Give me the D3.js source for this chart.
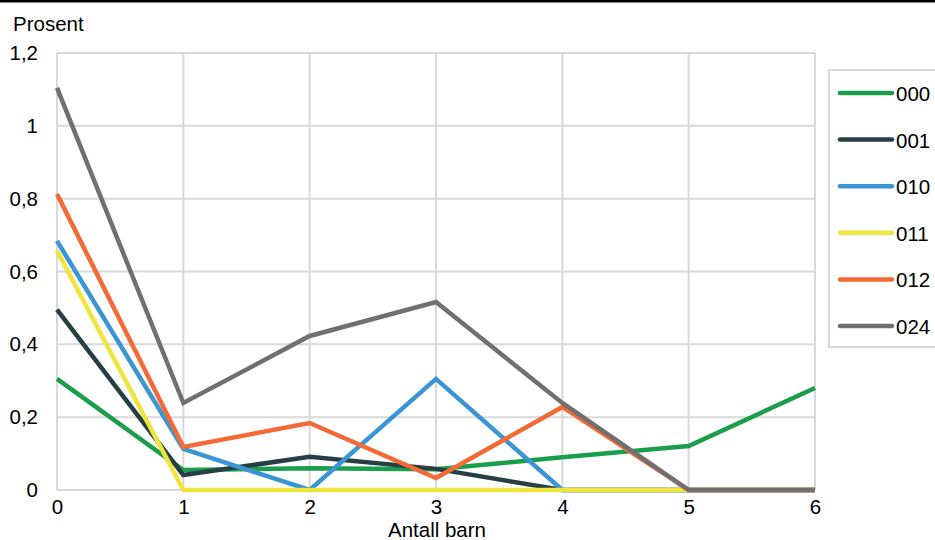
<!DOCTYPE html>
<html><head><meta charset="utf-8">
<script src="https://cdn.jsdelivr.net/npm/d3@7"></script>
<style>body{margin:0;background:#fff}svg{display:block;font-family:"Liberation Sans",Arial,sans-serif}</style>
</head><body><svg id="c" width="935" height="540"></svg>
<script>
const categories = [0,1,2,3,4,5,6];
const seriesNames = ["000","001","010","011","012","024"];
const s000 = [0.305,0.055,0.06,0.057,0.09,0.121,0.28];
const s001 = [0.495,0.041,0.091,0.058,0,0,0];
const s010 = [0.684,0.113,0,0.305,0,0,0];
const s011 = [0.657,0,0,0,0,0,0];
const s012 = [0.813,0.118,0.184,0.033,0.228,0,0];
const s024 = [1.104,0.239,0.423,0.516,0.239,0,0];
const yTicks = [0,0.2,0.4,0.6,0.8,1,1.2];
const colors = ["#1b9e4b","#263f45","#3a95d4","#f0e53c","#f36a36","#707070"];
const seriesValues = [s000,s001,s010,s011,s012,s024];

const FS = 20.5;
const svg = d3.select("#c");
const x = d3.scaleLinear().domain([0,6]).range([57,815]);
const y = d3.scaleLinear().domain([0,1.2]).range([490,53]);
const fmt = v => String(v).replace(".", ",");

svg.append("rect").attr("x",0).attr("y",0).attr("width",935).attr("height",2.5).attr("fill","#000");

// grid
const g = svg.append("g");
g.selectAll(".h").data(yTicks).join("line")
  .attr("x1",x(0)).attr("x2",x(6)).attr("y1",d=>y(d)).attr("y2",d=>y(d))
  .attr("stroke","#d9d9d9").attr("stroke-width",2);
g.selectAll(".v").data(categories).join("line")
  .attr("y1",y(0)).attr("y2",y(1.2)).attr("x1",d=>x(d)).attr("x2",d=>x(d))
  .attr("stroke","#d9d9d9").attr("stroke-width",2);

// axes
const ya = svg.append("g").attr("transform",`translate(${x(0)},0)`)
  .call(d3.axisLeft(y).tickValues(yTicks).tickFormat(fmt).tickSize(0).tickPadding(19));
ya.select(".domain").remove();
ya.selectAll("text").attr("font-size",FS).attr("fill","#000").attr("font-family","Liberation Sans, Arial, sans-serif");
const xa = svg.append("g").attr("transform",`translate(0,${y(0)})`)
  .call(d3.axisBottom(x).tickValues(categories).tickFormat(d=>d).tickSize(0).tickPadding(9));
xa.select(".domain").remove();
xa.selectAll("text").attr("font-size",FS).attr("fill","#000").attr("font-family","Liberation Sans, Arial, sans-serif");

svg.append("text").attr("x",13).attr("y",31).attr("font-size",FS).text("Prosent");
svg.append("text").attr("x",437).attr("y",537).attr("text-anchor","middle").attr("font-size",FS).text("Antall barn");

// lines
const line = d3.line().x((d,i)=>x(categories[i])).y(d=>y(d));
seriesValues.forEach((vals,k)=>{
  svg.append("path").datum(vals).attr("d",line).attr("fill","none")
    .attr("stroke",colors[k]).attr("stroke-width",4.5).attr("stroke-linejoin","miter");
});

// legend
const lg = svg.append("g");
lg.append("rect").attr("x",829).attr("y",70).attr("width",120).attr("height",277)
  .attr("fill","#fff").attr("stroke","#d9d9d9").attr("stroke-width",2);
seriesNames.forEach((n,k)=>{
  const yy = 93 + k*46.6;
  lg.append("line").attr("x1",840).attr("x2",892).attr("y1",yy).attr("y2",yy)
    .attr("stroke",colors[k]).attr("stroke-width",4.5).attr("stroke-linecap","round");
  lg.append("text").attr("x",896).attr("y",yy+8).attr("font-size",FS).text(n);
});
</script></body></html>
